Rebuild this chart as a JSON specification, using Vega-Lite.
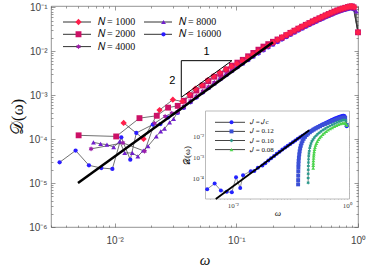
{
"$schema":"https://vega.github.io/schema/vega-lite/v6.json",
"width":307,"height":221,
"autosize":{"type":"none"},
"padding":{"left":51,"top":6,"right":16,"bottom":42},
"config":{"view":{"stroke":"#777","strokeWidth":0.8},"axis":{"grid":false}},
"datasets":{
"main":[
{"N":"16000","w":0.00353,"D":2.96e-5},{"N":"16000","w":0.00478,"D":5.5e-5},{"N":"16000","w":0.00615,"D":2.53e-5},{"N":"16000","w":0.00778,"D":2.2e-5},{"N":"16000","w":0.00958,"D":2.1e-5},{"N":"16000","w":0.01135,"D":1.1e-4},{"N":"16000","w":0.01345,"D":3.4e-5},{"N":"16000","w":0.01507,"D":1.38e-4},{"N":"16000","w":0.0206,"D":2.14e-4},{"N":"16000","w":0.0238,"D":2.2e-4},{"N":"16000","w":0.0275,"D":3.1e-4},
{"N":"16000","w":0.033,"D":3.96e-4},{"N":"16000","w":0.037,"D":5.17e-4},{"N":"16000","w":0.042,"D":6.88e-4},{"N":"16000","w":0.047,"D":8.83e-4},{"N":"16000","w":0.053,"D":1.147e-3},{"N":"16000","w":0.059,"D":1.44e-3},{"N":"16000","w":0.066,"D":1.82e-3},{"N":"16000","w":0.074,"D":2.3e-3},{"N":"16000","w":0.083,"D":2.89e-3},{"N":"16000","w":0.092,"D":3.53e-3},{"N":"16000","w":0.102,"D":4.3e-3},{"N":"16000","w":0.113,"D":5.21e-3},{"N":"16000","w":0.125,"D":6.27e-3},{"N":"16000","w":0.138,"D":7.49e-3},{"N":"16000","w":0.152,"D":8.87e-3},{"N":"16000","w":0.167,"D":1.042e-2},{"N":"16000","w":0.183,"D":1.216e-2},{"N":"16000","w":0.2,"D":1.407e-2},{"N":"16000","w":0.218,"D":1.617e-2},{"N":"16000","w":0.237,"D":1.845e-2},{"N":"16000","w":0.257,"D":2.09e-2},{"N":"16000","w":0.278,"D":2.36e-2},{"N":"16000","w":0.3,"D":2.64e-2},{"N":"16000","w":0.323,"D":2.94e-2},{"N":"16000","w":0.347,"D":3.25e-2},{"N":"16000","w":0.372,"D":3.59e-2},{"N":"16000","w":0.398,"D":3.94e-2},{"N":"16000","w":0.425,"D":4.3e-2},{"N":"16000","w":0.453,"D":4.68e-2},{"N":"16000","w":0.482,"D":5.07e-2},{"N":"16000","w":0.512,"D":5.47e-2},{"N":"16000","w":0.543,"D":5.9e-2},{"N":"16000","w":0.575,"D":6.33e-2},{"N":"16000","w":0.608,"D":6.76e-2},{"N":"16000","w":0.642,"D":7.21e-2},{"N":"16000","w":0.677,"D":7.65e-2},{"N":"16000","w":0.713,"D":8.06e-2},{"N":"16000","w":0.75,"D":8.42e-2},{"N":"16000","w":0.788,"D":8.78e-2},{"N":"16000","w":0.827,"D":9.14e-2},{"N":"16000","w":0.86,"D":9.36e-2},{"N":"16000","w":0.89,"D":9.45e-2},{"N":"16000","w":0.92,"D":9.0e-2},{"N":"16000","w":1.0,"D":0.026},
{"N":"8000","w":0.0067,"D":8.45e-5},{"N":"8000","w":0.00767,"D":7.8e-5},{"N":"8000","w":0.00865,"D":7.5e-5},{"N":"8000","w":0.00982,"D":6.6e-5},{"N":"8000","w":0.011,"D":8.9e-5},{"N":"8000","w":0.0121,"D":4.85e-5},{"N":"8000","w":0.01397,"D":4.85e-5},{"N":"8000","w":0.01552,"D":4.05e-5},{"N":"8000","w":0.0172,"D":5.5e-5},{"N":"8000","w":0.0188,"D":6.9e-5},{"N":"8000","w":0.022,"D":1.16e-4},{"N":"8000","w":0.0239,"D":1.5e-4},{"N":"8000","w":0.0257,"D":1.73e-4},{"N":"8000","w":0.0283,"D":2.4e-4},{"N":"8000","w":0.0305,"D":2.9e-4},
{"N":"8000","w":0.033,"D":4.09e-4},{"N":"8000","w":0.037,"D":5.34e-4},{"N":"8000","w":0.042,"D":7.11e-4},{"N":"8000","w":0.047,"D":9.12e-4},{"N":"8000","w":0.053,"D":1.185e-3},{"N":"8000","w":0.059,"D":1.49e-3},{"N":"8000","w":0.066,"D":1.88e-3},{"N":"8000","w":0.074,"D":2.37e-3},{"N":"8000","w":0.083,"D":2.99e-3},{"N":"8000","w":0.092,"D":3.65e-3},{"N":"8000","w":0.102,"D":4.45e-3},{"N":"8000","w":0.113,"D":5.38e-3},{"N":"8000","w":0.125,"D":6.48e-3},{"N":"8000","w":0.138,"D":7.74e-3},{"N":"8000","w":0.152,"D":9.16e-3},{"N":"8000","w":0.167,"D":1.077e-2},{"N":"8000","w":0.183,"D":1.256e-2},{"N":"8000","w":0.2,"D":1.454e-2},{"N":"8000","w":0.218,"D":1.671e-2},{"N":"8000","w":0.237,"D":1.907e-2},{"N":"8000","w":0.257,"D":2.16e-2},{"N":"8000","w":0.278,"D":2.43e-2},{"N":"8000","w":0.3,"D":2.72e-2},{"N":"8000","w":0.323,"D":3.04e-2},{"N":"8000","w":0.347,"D":3.36e-2},{"N":"8000","w":0.372,"D":3.71e-2},{"N":"8000","w":0.398,"D":4.07e-2},{"N":"8000","w":0.425,"D":4.45e-2},{"N":"8000","w":0.453,"D":4.84e-2},{"N":"8000","w":0.482,"D":5.24e-2},{"N":"8000","w":0.512,"D":5.65e-2},{"N":"8000","w":0.543,"D":6.09e-2},{"N":"8000","w":0.575,"D":6.54e-2},{"N":"8000","w":0.608,"D":6.98e-2},{"N":"8000","w":0.642,"D":7.45e-2},{"N":"8000","w":0.677,"D":7.9e-2},{"N":"8000","w":0.713,"D":8.32e-2},{"N":"8000","w":0.75,"D":8.7e-2},{"N":"8000","w":0.788,"D":9.07e-2},{"N":"8000","w":0.827,"D":9.44e-2},{"N":"8000","w":0.86,"D":9.67e-2},{"N":"8000","w":0.89,"D":9.77e-2},{"N":"8000","w":0.92,"D":9.3e-2},{"N":"8000","w":0.968,"D":0.081},{"N":"8000","w":1.0,"D":0.026},
{"N":"4000","w":0.0064,"D":6.0e-5},{"N":"4000","w":0.0117,"D":8.2e-5},{"N":"4000","w":0.01765,"D":5.3e-5},{"N":"4000","w":0.0213,"D":2.3e-4},{"N":"4000","w":0.026,"D":3.3e-4},{"N":"4000","w":0.0295,"D":3.9e-4},
{"N":"4000","w":0.033,"D":4.27e-4},{"N":"4000","w":0.037,"D":5.57e-4},{"N":"4000","w":0.042,"D":7.41e-4},{"N":"4000","w":0.047,"D":9.52e-4},{"N":"4000","w":0.053,"D":1.236e-3},{"N":"4000","w":0.059,"D":1.55e-3},{"N":"4000","w":0.066,"D":1.96e-3},{"N":"4000","w":0.074,"D":2.47e-3},{"N":"4000","w":0.083,"D":3.11e-3},{"N":"4000","w":0.092,"D":3.8e-3},{"N":"4000","w":0.102,"D":4.64e-3},{"N":"4000","w":0.113,"D":5.62e-3},{"N":"4000","w":0.125,"D":6.76e-3},{"N":"4000","w":0.138,"D":8.07e-3},{"N":"4000","w":0.152,"D":9.55e-3},{"N":"4000","w":0.167,"D":1.123e-2},{"N":"4000","w":0.183,"D":1.31e-2},{"N":"4000","w":0.2,"D":1.516e-2},{"N":"4000","w":0.218,"D":1.743e-2},{"N":"4000","w":0.237,"D":1.989e-2},{"N":"4000","w":0.257,"D":2.25e-2},{"N":"4000","w":0.278,"D":2.54e-2},{"N":"4000","w":0.3,"D":2.84e-2},{"N":"4000","w":0.323,"D":3.17e-2},{"N":"4000","w":0.347,"D":3.51e-2},{"N":"4000","w":0.372,"D":3.87e-2},{"N":"4000","w":0.398,"D":4.24e-2},{"N":"4000","w":0.425,"D":4.64e-2},{"N":"4000","w":0.453,"D":5.04e-2},{"N":"4000","w":0.482,"D":5.46e-2},{"N":"4000","w":0.512,"D":5.9e-2},{"N":"4000","w":0.543,"D":6.35e-2},{"N":"4000","w":0.575,"D":6.82e-2},{"N":"4000","w":0.608,"D":7.28e-2},{"N":"4000","w":0.642,"D":7.77e-2},{"N":"4000","w":0.677,"D":8.25e-2},{"N":"4000","w":0.713,"D":8.68e-2},{"N":"4000","w":0.75,"D":9.07e-2},{"N":"4000","w":0.788,"D":9.46e-2},{"N":"4000","w":0.827,"D":9.85e-2},{"N":"4000","w":0.86,"D":0.1009},{"N":"4000","w":0.89,"D":0.1019},{"N":"4000","w":0.92,"D":0.097},{"N":"4000","w":1.0,"D":0.0265},
{"N":"2000","w":0.00506,"D":1.22e-4},{"N":"2000","w":0.0103,"D":1.15e-4},{"N":"2000","w":0.016,"D":3.0e-4},{"N":"2000","w":0.0222,"D":3.4e-4},{"N":"2000","w":0.0275,"D":5.2e-4},
{"N":"2000","w":0.033,"D":5.72e-4},{"N":"2000","w":0.037,"D":7.46e-4},{"N":"2000","w":0.042,"D":9.93e-4},{"N":"2000","w":0.047,"D":1.275e-3},{"N":"2000","w":0.053,"D":1.656e-3},{"N":"2000","w":0.059,"D":2.08e-3},{"N":"2000","w":0.066,"D":2.63e-3},{"N":"2000","w":0.074,"D":3.06e-3},{"N":"2000","w":0.083,"D":3.85e-3},{"N":"2000","w":0.092,"D":4.7e-3},{"N":"2000","w":0.102,"D":5.5e-3},{"N":"2000","w":0.113,"D":6.37e-3},{"N":"2000","w":0.125,"D":7.67e-3},{"N":"2000","w":0.138,"D":9.15e-3},{"N":"2000","w":0.152,"D":1.084e-2},{"N":"2000","w":0.167,"D":1.274e-2},{"N":"2000","w":0.183,"D":1.45e-2},{"N":"2000","w":0.2,"D":1.64e-2},{"N":"2000","w":0.218,"D":1.85e-2},{"N":"2000","w":0.237,"D":2.05e-2},{"N":"2000","w":0.257,"D":2.324e-2},{"N":"2000","w":0.278,"D":2.618e-2},{"N":"2000","w":0.3,"D":2.93e-2},{"N":"2000","w":0.323,"D":3.265e-2},{"N":"2000","w":0.347,"D":3.615e-2},{"N":"2000","w":0.372,"D":3.985e-2},{"N":"2000","w":0.398,"D":4.375e-2},{"N":"2000","w":0.425,"D":4.78e-2},{"N":"2000","w":0.453,"D":5.2e-2},{"N":"2000","w":0.482,"D":5.63e-2},{"N":"2000","w":0.512,"D":6.08e-2},{"N":"2000","w":0.543,"D":6.55e-2},{"N":"2000","w":0.575,"D":7.03e-2},{"N":"2000","w":0.608,"D":7.51e-2},{"N":"2000","w":0.642,"D":8.01e-2},{"N":"2000","w":0.677,"D":8.5e-2},{"N":"2000","w":0.713,"D":8.95e-2},{"N":"2000","w":0.75,"D":9.35e-2},{"N":"2000","w":0.788,"D":9.75e-2},{"N":"2000","w":0.827,"D":0.1015},{"N":"2000","w":0.86,"D":0.104},{"N":"2000","w":0.89,"D":0.105},{"N":"2000","w":0.92,"D":0.1},{"N":"2000","w":1.0,"D":0.027},
{"N":"1000","w":0.01186,"D":2.34e-4},{"N":"1000","w":0.0173,"D":1.01e-4},{"N":"1000","w":0.0234,"D":4.58e-4},{"N":"1000","w":0.0301,"D":7.9e-4},{"N":"1000","w":0.036,"D":7.2e-4},{"N":"1000","w":0.041,"D":1.05e-3},{"N":"1000","w":0.046,"D":1.4e-3},{"N":"1000","w":0.052,"D":1.7e-3},{"N":"1000","w":0.058,"D":2.2e-3},{"N":"1000","w":0.065,"D":2.7e-3},{"N":"1000","w":0.073,"D":3.3e-3},{"N":"1000","w":0.082,"D":3.9e-3},{"N":"1000","w":0.091,"D":4.5e-3},{"N":"1000","w":0.101,"D":5.2e-3},{"N":"1000","w":0.112,"D":6.1e-3},{"N":"1000","w":0.124,"D":7.2e-3},{"N":"1000","w":0.137,"D":8.5e-3},{"N":"1000","w":0.151,"D":9.9e-3},{"N":"1000","w":0.166,"D":1.16e-2},{"N":"1000","w":0.182,"D":1.35e-2},{"N":"1000","w":0.2,"D":1.57e-2},{"N":"1000","w":0.218,"D":1.83e-2},{"N":"1000","w":0.237,"D":2.09e-2},{"N":"1000","w":0.257,"D":2.37e-2},{"N":"1000","w":0.278,"D":2.67e-2},{"N":"1000","w":0.3,"D":2.99e-2},{"N":"1000","w":0.323,"D":3.33e-2},{"N":"1000","w":0.347,"D":3.69e-2},{"N":"1000","w":0.372,"D":4.07e-2},{"N":"1000","w":0.398,"D":4.46e-2},{"N":"1000","w":0.425,"D":4.88e-2},{"N":"1000","w":0.453,"D":5.3e-2},{"N":"1000","w":0.482,"D":5.74e-2},{"N":"1000","w":0.512,"D":6.2e-2},{"N":"1000","w":0.543,"D":6.68e-2},{"N":"1000","w":0.575,"D":7.17e-2},{"N":"1000","w":0.608,"D":7.66e-2},{"N":"1000","w":0.642,"D":8.15e-2},{"N":"1000","w":0.677,"D":8.65e-2},{"N":"1000","w":0.713,"D":9.1e-2},{"N":"1000","w":0.75,"D":9.5e-2},{"N":"1000","w":0.788,"D":9.9e-2},{"N":"1000","w":0.827,"D":0.1025},{"N":"1000","w":0.86,"D":0.1048},{"N":"1000","w":0.89,"D":0.1058},{"N":"1000","w":0.935,"D":0.1005},{"N":"1000","w":1.0,"D":0.027}
],
"inset":[
{"J":"Jc","w":0.00353,"D":2.96e-5},{"J":"Jc","w":0.00478,"D":5.5e-5},{"J":"Jc","w":0.00615,"D":2.53e-5},{"J":"Jc","w":0.00778,"D":2.2e-5},{"J":"Jc","w":0.00958,"D":2.1e-5},{"J":"Jc","w":0.01135,"D":1.1e-4},{"J":"Jc","w":0.01345,"D":3.4e-5},{"J":"Jc","w":0.01507,"D":1.38e-4},{"J":"Jc","w":0.0206,"D":2.14e-4},{"J":"Jc","w":0.0238,"D":2.2e-4},{"J":"Jc","w":0.0275,"D":3.1e-4},
{"J":"Jc","w":0.033,"D":3.96e-4},{"J":"Jc","w":0.037,"D":5.17e-4},{"J":"Jc","w":0.042,"D":6.88e-4},{"J":"Jc","w":0.047,"D":8.83e-4},{"J":"Jc","w":0.053,"D":1.147e-3},{"J":"Jc","w":0.059,"D":1.44e-3},{"J":"Jc","w":0.066,"D":1.82e-3},{"J":"Jc","w":0.074,"D":2.3e-3},{"J":"Jc","w":0.083,"D":2.89e-3},{"J":"Jc","w":0.092,"D":3.53e-3},{"J":"Jc","w":0.102,"D":4.3e-3},{"J":"Jc","w":0.113,"D":5.21e-3},{"J":"Jc","w":0.125,"D":6.27e-3},{"J":"Jc","w":0.138,"D":7.49e-3},{"J":"Jc","w":0.152,"D":8.87e-3},{"J":"Jc","w":0.167,"D":1.042e-2},{"J":"Jc","w":0.183,"D":1.216e-2},{"J":"Jc","w":0.2,"D":1.407e-2},{"J":"Jc","w":0.218,"D":1.617e-2},{"J":"Jc","w":0.237,"D":1.845e-2},{"J":"Jc","w":0.257,"D":2.09e-2},{"J":"Jc","w":0.278,"D":2.36e-2},{"J":"Jc","w":0.3,"D":2.64e-2},{"J":"Jc","w":0.323,"D":2.94e-2},{"J":"Jc","w":0.347,"D":3.25e-2},{"J":"Jc","w":0.372,"D":3.59e-2},{"J":"Jc","w":0.398,"D":3.94e-2},{"J":"Jc","w":0.425,"D":4.3e-2},{"J":"Jc","w":0.453,"D":4.68e-2},{"J":"Jc","w":0.482,"D":5.07e-2},{"J":"Jc","w":0.512,"D":5.47e-2},{"J":"Jc","w":0.543,"D":5.9e-2},{"J":"Jc","w":0.575,"D":6.33e-2},{"J":"Jc","w":0.608,"D":6.76e-2},{"J":"Jc","w":0.642,"D":7.21e-2},{"J":"Jc","w":0.677,"D":7.65e-2},{"J":"Jc","w":0.713,"D":8.06e-2},{"J":"Jc","w":0.75,"D":8.42e-2},{"J":"Jc","w":0.788,"D":8.78e-2},{"J":"Jc","w":0.827,"D":9.14e-2},{"J":"Jc","w":0.86,"D":9.36e-2},{"J":"Jc","w":0.89,"D":9.45e-2},{"J":"Jc","w":0.92,"D":9.0e-2},{"J":"Jc","w":1.0,"D":0.03},
{"J":"0.12","w":0.14,"D":5.0e-5},{"J":"0.12","w":0.1402,"D":8e-5},{"J":"0.12","w":0.1405,"D":1.3e-4},{"J":"0.12","w":0.141,"D":2.1e-4},{"J":"0.12","w":0.1415,"D":3.2e-4},{"J":"0.12","w":0.142,"D":4.6e-4},{"J":"0.12","w":0.143,"D":6.6e-4},{"J":"0.12","w":0.1445,"D":9.5e-4},{"J":"0.12","w":0.1465,"D":1.35e-3},{"J":"0.12","w":0.149,"D":1.9e-3},{"J":"0.12","w":0.152,"D":2.6e-3},{"J":"0.12","w":0.156,"D":3.5e-3},{"J":"0.12","w":0.161,"D":4.6e-3},{"J":"0.12","w":0.167,"D":5.9e-3},{"J":"0.12","w":0.175,"D":7.5e-3},{"J":"0.12","w":0.185,"D":9.3e-3},{"J":"0.12","w":0.197,"D":1.13e-2},{"J":"0.12","w":0.21,"D":1.33e-2},{"J":"0.12","w":0.225,"D":1.55e-2},{"J":"0.12","w":0.242,"D":1.8e-2},{"J":"0.12","w":0.262,"D":2.05e-2},{"J":"0.12","w":0.285,"D":2.35e-2},{"J":"0.12","w":0.31,"D":2.65e-2},{"J":"0.12","w":0.34,"D":3.0e-2},{"J":"0.12","w":0.375,"D":3.4e-2},{"J":"0.12","w":0.415,"D":3.85e-2},{"J":"0.12","w":0.46,"D":4.3e-2},{"J":"0.12","w":0.51,"D":4.8e-2},{"J":"0.12","w":0.565,"D":5.35e-2},{"J":"0.12","w":0.625,"D":5.95e-2},{"J":"0.12","w":0.69,"D":6.55e-2},{"J":"0.12","w":0.76,"D":7.1e-2},{"J":"0.12","w":0.83,"D":7.6e-2},{"J":"0.12","w":0.89,"D":7.9e-2},{"J":"0.12","w":0.94,"D":7.5e-2},{"J":"0.12","w":1.0,"D":3.5e-2},
{"J":"0.10","w":0.21,"D":6e-5},{"J":"0.10","w":0.2102,"D":1e-4},{"J":"0.10","w":0.2105,"D":1.6e-4},{"J":"0.10","w":0.211,"D":2.5e-4},{"J":"0.10","w":0.2117,"D":3.8e-4},{"J":"0.10","w":0.2125,"D":5.5e-4},{"J":"0.10","w":0.2135,"D":7.8e-4},{"J":"0.10","w":0.215,"D":1.1e-3},{"J":"0.10","w":0.217,"D":1.5e-3},{"J":"0.10","w":0.22,"D":2.0e-3},{"J":"0.10","w":0.224,"D":2.7e-3},{"J":"0.10","w":0.229,"D":3.5e-3},{"J":"0.10","w":0.236,"D":4.5e-3},{"J":"0.10","w":0.245,"D":5.7e-3},{"J":"0.10","w":0.256,"D":7.0e-3},{"J":"0.10","w":0.27,"D":8.6e-3},{"J":"0.10","w":0.287,"D":1.04e-2},{"J":"0.10","w":0.307,"D":1.24e-2},{"J":"0.10","w":0.33,"D":1.47e-2},{"J":"0.10","w":0.357,"D":1.73e-2},{"J":"0.10","w":0.388,"D":2.02e-2},{"J":"0.10","w":0.423,"D":2.35e-2},{"J":"0.10","w":0.463,"D":2.72e-2},{"J":"0.10","w":0.508,"D":3.12e-2},{"J":"0.10","w":0.558,"D":3.55e-2},{"J":"0.10","w":0.613,"D":4.0e-2},{"J":"0.10","w":0.673,"D":4.5e-2},{"J":"0.10","w":0.738,"D":5.0e-2},{"J":"0.10","w":0.805,"D":5.5e-2},{"J":"0.10","w":0.87,"D":5.9e-2},{"J":"0.10","w":0.93,"D":6.0e-2},{"J":"0.10","w":0.97,"D":5.5e-2},{"J":"0.10","w":1.0,"D":3.6e-2},
{"J":"0.08","w":0.258,"D":3.0e-4},{"J":"0.08","w":0.2585,"D":4.0e-4},{"J":"0.08","w":0.259,"D":5.2e-4},{"J":"0.08","w":0.26,"D":6.8e-4},{"J":"0.08","w":0.2615,"D":9e-4},{"J":"0.08","w":0.263,"D":1.15e-3},{"J":"0.08","w":0.265,"D":1.45e-3},{"J":"0.08","w":0.268,"D":1.85e-3},{"J":"0.08","w":0.272,"D":2.35e-3},{"J":"0.08","w":0.277,"D":2.95e-3},{"J":"0.08","w":0.284,"D":3.7e-3},{"J":"0.08","w":0.293,"D":4.6e-3},{"J":"0.08","w":0.304,"D":5.7e-3},{"J":"0.08","w":0.318,"D":7.0e-3},{"J":"0.08","w":0.335,"D":8.5e-3},{"J":"0.08","w":0.355,"D":1.02e-2},{"J":"0.08","w":0.378,"D":1.22e-2},{"J":"0.08","w":0.405,"D":1.45e-2},{"J":"0.08","w":0.436,"D":1.7e-2},{"J":"0.08","w":0.472,"D":1.98e-2},{"J":"0.08","w":0.512,"D":2.28e-2},{"J":"0.08","w":0.557,"D":2.6e-2},{"J":"0.08","w":0.607,"D":2.95e-2},{"J":"0.08","w":0.662,"D":3.3e-2},{"J":"0.08","w":0.72,"D":3.65e-2},{"J":"0.08","w":0.78,"D":3.95e-2},{"J":"0.08","w":0.84,"D":4.2e-2},{"J":"0.08","w":0.9,"D":4.3e-2},{"J":"0.08","w":0.95,"D":4.1e-2},{"J":"0.08","w":1.0,"D":3.4e-2}
],
"slope":[{"w":0.005,"D":1e-5},{"w":0.2,"D":0.016}],
"islope":[{"w":0.005,"D":1e-5},{"w":0.22,"D":0.01936}],
"tri":[{"w":0.0353,"D":0.000895,"o":0},{"w":0.0353,"D":0.0061,"o":1},{"w":0.092,"D":0.0061,"o":2},{"w":0.0353,"D":0.000895,"o":3}],
"txt":[{"w":0.057,"D":0.0095,"t":"1"},{"w":0.0298,"D":0.00215,"t":"2"}],
"box":[{"x1":0.0033,"x2":1.12,"y1":1e-5,"y2":0.16}]
},
"resolve":{"scale":{"x":"independent","y":"independent","color":"independent","shape":"independent","size":"independent","stroke":"independent"},"axis":{"x":"independent","y":"independent"},"legend":{"color":"independent","shape":"independent","size":"independent","stroke":"independent"}},
"layer":[
{"data":{"name":"main"},"mark":{"type":"line","strokeWidth":0.7},
 "encoding":{
  "x":{"field":"w","type":"quantitative","scale":{"type":"log","domain":[0.003,1],"nice":false},
   "axis":{"orient":"bottom","values":[0.003,0.004,0.005,0.006,0.007,0.008,0.009,0.01,0.02,0.03,0.04,0.05,0.06,0.07,0.08,0.09,0.1,0.2,0.3,0.4,0.5,0.6,0.7,0.8,0.9,1],"labels":false,"domain":false,"title":null,"tickColor":"#555","tickWidth":0.6,"tickSize":{"condition":{"test":"abs(log(datum.value)/LN10 - round(log(datum.value)/LN10)) < 0.01","value":-4},"value":-2}}},
  "y":{"field":"D","type":"quantitative","scale":{"type":"log","domain":[1e-6,0.107],"nice":false},
   "axis":{"orient":"left","values":[1e-6,2e-6,3e-6,4e-6,5e-6,6e-6,7e-6,8e-6,9e-6,1e-5,2e-5,3e-5,4e-5,5e-5,6e-5,7e-5,8e-5,9e-5,1e-4,2e-4,3e-4,4e-4,5e-4,6e-4,7e-4,8e-4,9e-4,0.001,0.002,0.003,0.004,0.005,0.006,0.007,0.008,0.009,0.01,0.02,0.03,0.04,0.05,0.06,0.07,0.08,0.09,0.1],"labels":false,"domain":false,"title":null,"tickColor":"#555","tickWidth":0.6,"tickSize":{"condition":{"test":"abs(log(datum.value)/LN10 - round(log(datum.value)/LN10)) < 0.01","value":-4},"value":-2}}},
  "stroke":{"field":"N","type":"nominal","scale":{"domain":["1000","2000","4000","8000","16000"],"range":["#333","#333","#333","#333","#333"]},
   "legend":{"title":null,"orient":"none","legendX":11.5,"legendY":11,"columns":2,"columnPadding":8,"rowPadding":2.3,"clipHeight":10,"symbolType":"stroke","symbolSize":784,"symbolStrokeWidth":1,"labelFont":"Liberation Serif","labelFontSize":10,"labelColor":"#111","labelOffset":6,"labelExpr":"'𝑁 = ' + datum.label"}}
 }},
{"data":{"name":"main"},"mark":{"type":"point","filled":true,"opacity":1,"strokeWidth":0},
 "encoding":{
  "x":{"field":"w","type":"quantitative","scale":{"type":"log","domain":[0.003,1],"nice":false},
   "axis":{"orient":"bottom","values":[0.01,0.1,1],"ticks":false,"domain":false,"labelFlush":false,"labelOverlap":false,"labelBound":false,"labelExpr":"'10' + (datum.value < 0.05 ? '⁻²' : datum.value < 0.5 ? '⁻¹' : '⁰')","labelFont":"Liberation Sans","labelFontSize":10,"labelColor":"#444","labelPadding":8,"title":"ω","titleFont":"Liberation Serif","titleFontStyle":"italic","titleFontWeight":"normal","titleFontSize":15,"titleColor":"#111","titlePadding":7}},
  "y":{"field":"D","type":"quantitative","scale":{"type":"log","domain":[1e-6,0.107],"nice":false},
   "axis":{"orient":"left","values":[1e-6,1e-5,1e-4,0.001,0.01,0.1],"ticks":false,"domain":false,"labelOverlap":false,"labelBound":false,"labelFlush":false,"labelExpr":"'10' + ['⁰','⁻¹','⁻²','⁻³','⁻⁴','⁻⁵','⁻⁶'][round(-log(datum.value)/LN10)]","labelFont":"Liberation Sans","labelFontSize":10,"labelColor":"#444","labelPadding":4,"title":"𝒟(ω)","titleFont":"Liberation Serif","titleFontWeight":"normal","titleFontSize":17,"titleColor":"#111","titlePadding":2}},
  "color":{"field":"N","type":"nominal","scale":{"domain":["1000","2000","4000","8000","16000"],"range":["#ff1f4b","#cc1166","#9b1fa8","#7020cc","#2b1cff"]},
   "legend":{"title":null,"orient":"none","legendX":22.5,"legendY":11,"columns":2,"columnPadding":75,"rowPadding":2.3,"clipHeight":10,"symbolStrokeWidth":0,"labelFont":"Liberation Serif","labelFontSize":10,"labelOffset":0,"labelExpr":"''"}},
  "shape":{"field":"N","type":"nominal","scale":{"domain":["1000","2000","4000","8000","16000"],"range":["diamond","square","M0,-1L-0.289,-0.5L-0.866,-0.5L-0.577,0L-0.866,0.5L-0.289,0.5L0,1L0.289,0.5L0.866,0.5L0.577,0L0.866,-0.5L0.289,-0.5Z","triangle-up","circle"]}},
  "size":{"field":"N","type":"nominal","scale":{"domain":["1000","2000","4000","8000","16000"],"range":[40,18,26,30,36]}}
 }},
{"data":{"name":"slope"},"mark":{"type":"line","color":"#000","strokeWidth":2.5},
 "encoding":{
  "x":{"field":"w","type":"quantitative","scale":{"type":"log","domain":[0.003,1],"nice":false},
   "axis":{"orient":"top","values":[0.003,0.004,0.005,0.006,0.007,0.008,0.009,0.01,0.02,0.03,0.04,0.05,0.06,0.07,0.08,0.09,0.1,0.2,0.3,0.4,0.5,0.6,0.7,0.8,0.9,1],"labels":false,"domain":false,"title":null,"tickColor":"#555","tickWidth":0.6,"tickSize":{"condition":{"test":"abs(log(datum.value)/LN10 - round(log(datum.value)/LN10)) < 0.01","value":-4},"value":-2}}},
  "y":{"field":"D","type":"quantitative","scale":{"type":"log","domain":[1e-6,0.107],"nice":false},
   "axis":{"orient":"right","values":[1e-6,2e-6,3e-6,4e-6,5e-6,6e-6,7e-6,8e-6,9e-6,1e-5,2e-5,3e-5,4e-5,5e-5,6e-5,7e-5,8e-5,9e-5,1e-4,2e-4,3e-4,4e-4,5e-4,6e-4,7e-4,8e-4,9e-4,0.001,0.002,0.003,0.004,0.005,0.006,0.007,0.008,0.009,0.01,0.02,0.03,0.04,0.05,0.06,0.07,0.08,0.09,0.1],"labels":false,"domain":false,"title":null,"tickColor":"#555","tickWidth":0.6,"tickSize":{"condition":{"test":"abs(log(datum.value)/LN10 - round(log(datum.value)/LN10)) < 0.01","value":-4},"value":-2}}}
 }},
{"data":{"name":"tri"},"mark":{"type":"line","color":"#000","strokeWidth":1},
 "encoding":{
  "x":{"field":"w","type":"quantitative","scale":{"type":"log","domain":[0.003,1],"nice":false},"axis":null},
  "y":{"field":"D","type":"quantitative","scale":{"type":"log","domain":[1e-6,0.107],"nice":false},"axis":null},
  "order":{"field":"o","type":"quantitative"}
 }},
{"data":{"name":"txt"},"mark":{"type":"text","font":"Liberation Sans","fontSize":11,"color":"#000"},
 "encoding":{
  "x":{"field":"w","type":"quantitative","scale":{"type":"log","domain":[0.003,1],"nice":false},"axis":null},
  "y":{"field":"D","type":"quantitative","scale":{"type":"log","domain":[1e-6,0.107],"nice":false},"axis":null},
  "text":{"field":"t","type":"nominal"}
 }},
{"data":{"name":"box"},"mark":{"type":"rect","fill":"#fff","stroke":"#aaa","strokeWidth":0.8},
 "encoding":{
  "x":{"field":"x1","type":"quantitative","scale":{"type":"log","domain":[0.0033,1.12],"range":[154.5,298.5],"nice":false},"axis":null},
  "x2":{"field":"x2"},
  "y":{"field":"y1","type":"quantitative","scale":{"type":"log","domain":[1e-5,0.16],"range":[193,105],"nice":false},"axis":null},
  "y2":{"field":"y2"}
 }},
{"data":{"name":"inset"},"mark":{"type":"line","strokeWidth":0.6},
 "encoding":{
  "x":{"field":"w","type":"quantitative","scale":{"type":"log","domain":[0.0033,1.12],"range":[154.5,298.5],"nice":false},
   "axis":{"orient":"bottom","offset":-28,"values":[0.004,0.005,0.006,0.007,0.008,0.009,0.01,0.02,0.03,0.04,0.05,0.06,0.07,0.08,0.09,0.1,0.2,0.3,0.4,0.5,0.6,0.7,0.8,0.9,1],"labels":false,"domain":false,"title":null,"tickColor":"#666","tickWidth":0.5,"tickSize":{"condition":{"test":"abs(log(datum.value)/LN10 - round(log(datum.value)/LN10)) < 0.01","value":-3},"value":-1.5}}},
  "y":{"field":"D","type":"quantitative","scale":{"type":"log","domain":[1e-5,0.16],"range":[193,105],"nice":false},
   "axis":{"orient":"left","offset":-154.5,"values":[2e-5,3e-5,4e-5,5e-5,6e-5,7e-5,8e-5,9e-5,1e-4,2e-4,3e-4,4e-4,5e-4,6e-4,7e-4,8e-4,9e-4,0.001,0.002,0.003,0.004,0.005,0.006,0.007,0.008,0.009,0.01,0.02,0.03,0.04,0.05,0.06,0.07,0.08,0.09,0.1],"labels":false,"domain":false,"title":null,"tickColor":"#666","tickWidth":0.5,"tickSize":{"condition":{"test":"abs(log(datum.value)/LN10 - round(log(datum.value)/LN10)) < 0.01","value":-3},"value":-1.5}}},
  "stroke":{"field":"J","type":"nominal","scale":{"domain":["Jc","0.12","0.10","0.08"],"range":["#444","#444","#444","#444"]},
   "legend":{"title":null,"orient":"none","legendX":163.5,"legendY":112.8,"columns":1,"rowPadding":1.1,"clipHeight":7,"symbolType":"stroke","symbolSize":900,"symbolStrokeWidth":1,"labelFont":"Liberation Serif","labelFontSize":7,"labelColor":"#111","labelOffset":4.5,"labelExpr":"datum.label == 'Jc' ? '𝐽 = 𝐽c' : '𝐽 = ' + datum.label"}}
 }},
{"data":{"name":"inset"},"mark":{"type":"point","filled":true,"opacity":1,"strokeWidth":0},
 "encoding":{
  "x":{"field":"w","type":"quantitative","scale":{"type":"log","domain":[0.0033,1.12],"range":[154.5,298.5],"nice":false},
   "axis":{"orient":"bottom","offset":-28,"values":[0.01,1],"ticks":false,"domain":false,"labelFlush":false,"labelOverlap":false,"labelBound":false,"labelExpr":"datum.value < 0.5 ? '10⁻²' : '10⁰'","labelFont":"Liberation Serif","labelFontSize":7,"labelColor":"#444","labelPadding":2,"title":"ω","titleFont":"Liberation Serif","titleFontStyle":"italic","titleFontWeight":"normal","titleFontSize":9,"titleColor":"#111","titlePadding":0}},
  "y":{"field":"D","type":"quantitative","scale":{"type":"log","domain":[1e-5,0.16],"range":[193,105],"nice":false},
   "axis":{"orient":"left","offset":-154.5,"values":[1e-4,0.001,0.01],"ticks":false,"domain":false,"labelFlush":false,"labelOverlap":false,"labelBound":false,"labelExpr":"'10' + ['⁰','⁻¹','⁻²','⁻³','⁻⁴','⁻⁵'][round(-log(datum.value)/LN10)]","labelFont":"Liberation Serif","labelFontSize":7,"labelColor":"#444","labelPadding":2,"title":"𝒟(ω)","titleFont":"Liberation Serif","titleFontWeight":"normal","titleFontSize":9,"titleColor":"#111","titlePadding":1}},
  "color":{"field":"J","type":"nominal","scale":{"domain":["Jc","0.12","0.10","0.08"],"range":["#2424ff","#3a4fd6","#2a9a8c","#4cd64c"]},
   "legend":{"title":null,"orient":"none","legendX":177,"legendY":112.8,"columns":1,"rowPadding":1.1,"clipHeight":7,"symbolStrokeWidth":0,"labelFont":"Liberation Serif","labelFontSize":7,"labelOffset":0,"labelExpr":"''"}},
  "shape":{"field":"J","type":"nominal","scale":{"domain":["Jc","0.12","0.10","0.08"],"range":["circle","square","M0,-1L-0.289,-0.5L-0.866,-0.5L-0.577,0L-0.866,0.5L-0.289,0.5L0,1L0.289,0.5L0.866,0.5L0.577,0L0.866,-0.5L0.289,-0.5Z","triangle-up"]}},
  "size":{"field":"J","type":"nominal","scale":{"domain":["Jc","0.12","0.10","0.08"],"range":[16,14,14,16]}}
 }},
{"data":{"name":"islope"},"mark":{"type":"line","color":"#000","strokeWidth":1.8},
 "encoding":{
  "x":{"field":"w","type":"quantitative","scale":{"type":"log","domain":[0.0033,1.12],"range":[154.5,298.5],"nice":false},
   "axis":{"orient":"top","offset":-105,"values":[0.004,0.005,0.006,0.007,0.008,0.009,0.01,0.02,0.03,0.04,0.05,0.06,0.07,0.08,0.09,0.1,0.2,0.3,0.4,0.5,0.6,0.7,0.8,0.9,1],"labels":false,"domain":false,"title":null,"tickColor":"#666","tickWidth":0.5,"tickSize":{"condition":{"test":"abs(log(datum.value)/LN10 - round(log(datum.value)/LN10)) < 0.01","value":-3},"value":-1.5}}},
  "y":{"field":"D","type":"quantitative","scale":{"type":"log","domain":[1e-5,0.16],"range":[193,105],"nice":false},
   "axis":{"orient":"right","offset":-8.5,"values":[2e-5,3e-5,4e-5,5e-5,6e-5,7e-5,8e-5,9e-5,1e-4,2e-4,3e-4,4e-4,5e-4,6e-4,7e-4,8e-4,9e-4,0.001,0.002,0.003,0.004,0.005,0.006,0.007,0.008,0.009,0.01,0.02,0.03,0.04,0.05,0.06,0.07,0.08,0.09,0.1],"labels":false,"domain":false,"title":null,"tickColor":"#666","tickWidth":0.5,"tickSize":{"condition":{"test":"abs(log(datum.value)/LN10 - round(log(datum.value)/LN10)) < 0.01","value":-3},"value":-1.5}}}
 }}
]
}
